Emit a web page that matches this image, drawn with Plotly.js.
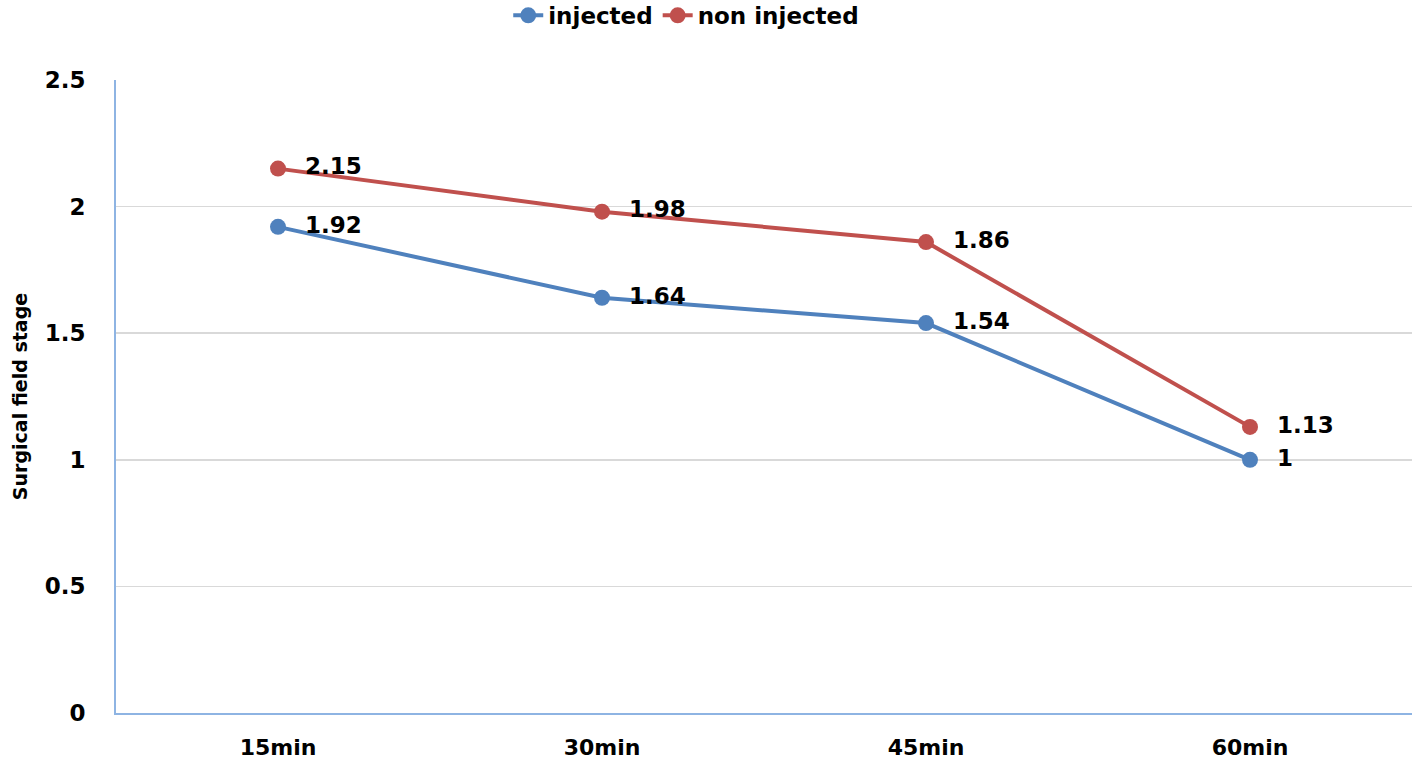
<!DOCTYPE html>
<html>
<head>
<meta charset="utf-8">
<script src="https://cdn.plot.ly/plotly-3.0.1.min.js"></script>
<style>
  html, body { margin: 0; padding: 0; background: white; }
  #chart { width: 1416px; height: 769px; }
</style>
</head>
<body>
<div id="chart"></div>
<script>
const times = ['15min', '30min', '45min', '60min'];
const injected = [1.92, 1.64, 1.54, 1];
const nonInjected = [2.15, 1.98, 1.86, 1.13];

const FONT = '"DejaVu Sans", sans-serif';

function series(name, y, color) {
  return {
    name: name,
    x: times,
    y: y,
    type: 'scatter',
    mode: 'lines+markers+text',
    // a little gap between marker and label, like the original
    text: y.map(v => '\u00a0\u00a0' + v),
    textposition: 'middle right',
    textfont: { family: FONT, size: 23, color: 'black', weight: 'bold' },
    line: { color: color, width: 4 },
    marker: { color: color, size: 16 },
    cliponaxis: false
  };
}

const traces = [
  series('injected', injected, '#4F81BD'),
  series('non injected', nonInjected, '#C0504D')
];

const layout = {
  width: 1416,
  height: 769,
  paper_bgcolor: 'white',
  plot_bgcolor: 'white',
  margin: { t: 80, b: 56, l: 116, r: 4 },
  showlegend: true,
  legend: {
    orientation: 'h',
    x: 0.44,
    xanchor: 'center',
    yref: 'container',
    y: 0.98,
    yanchor: 'middle',
    font: { family: FONT, size: 23, color: 'black', weight: 'bold' }
  },
  xaxis: {
    type: 'category',
    range: [-0.5, 3.5],
    showgrid: false,
    showline: true,
    linecolor: '#8EB4E3',
    linewidth: 2,
    ticks: '',
    tickfont: { family: FONT, size: 22, color: 'black', weight: 'bold' },
    ticklabelstandoff: 14,
    zeroline: false
  },
  yaxis: {
    range: [0, 2.5],
    dtick: 0.5,
    showgrid: true,
    gridcolor: '#D9D9D9',
    gridwidth: 1.5,
    showline: true,
    linecolor: '#8EB4E3',
    linewidth: 2,
    ticks: '',
    zeroline: false,
    tickfont: { family: FONT, size: 23, color: 'black', weight: 'bold' },
    ticklabelstandoff: 24,
    title: {
      text: 'Surgical field stage',
      font: { family: FONT, size: 19, color: 'black', weight: 'bold' },
      standoff: 12
    }
  }
};

Plotly.newPlot('chart', traces, layout, { displayModeBar: false, staticPlot: true });
</script>
</body>
</html>
